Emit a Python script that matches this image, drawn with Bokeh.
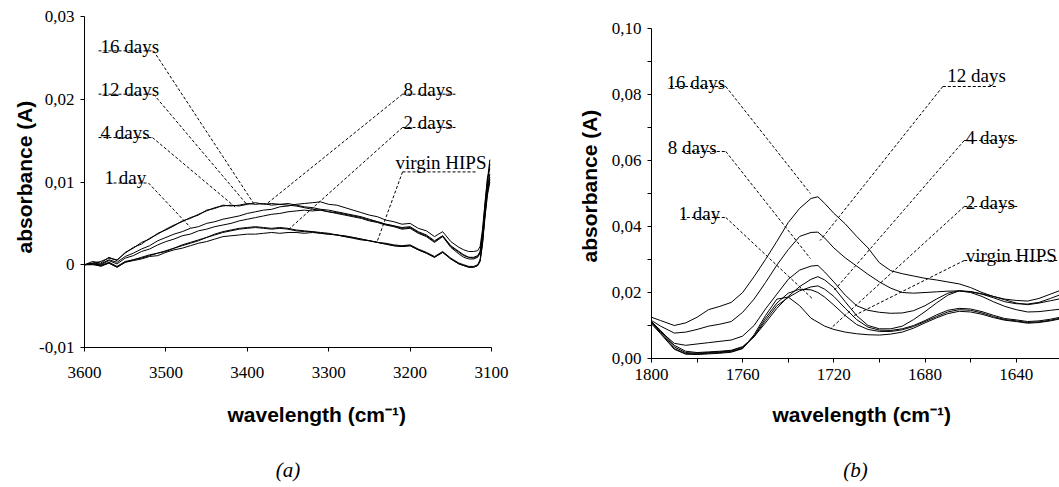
import numpy as np
from bokeh.plotting import figure
from bokeh.models import Range1d, FixedTicker, Title, LinearAxis
from bokeh.layouts import row
from bokeh.embed import file_html
from bokeh.resources import INLINE
from bokeh.core.properties import value

# ---------------- panel (a): 3600-3100 cm-1 ----------------
a_wave = [3600, 3590, 3580, 3570, 3560, 3550, 3540, 3530, 3520, 3510,
          3500, 3490, 3480, 3470, 3460, 3450, 3440, 3430, 3420, 3410,
          3400, 3390, 3380, 3370, 3360, 3350, 3340, 3330, 3320, 3310,
          3300, 3290, 3280, 3270, 3260, 3250, 3240, 3230, 3220, 3210,
          3200, 3190, 3180, 3170, 3160, 3150, 3140, 3134, 3128, 3122,
          3117, 3114, 3111, 3108, 3105, 3102]

a_16d = [0.0000, 0.0004, 0.0002, 0.0009, 0.0005, 0.0015, 0.0020, 0.0027, 0.0031, 0.0038,
         0.0042, 0.0047, 0.0053, 0.0056, 0.0061, 0.0065, 0.0069, 0.0071, 0.0072, 0.0071,
         0.0073, 0.0075, 0.0073, 0.0074, 0.0073, 0.0074, 0.0072, 0.0070, 0.0069, 0.0067,
         0.0066, 0.0064, 0.0062, 0.0060, 0.0058, 0.0055, 0.0052, 0.0049, 0.0047, 0.0044,
         0.0045, 0.0039, 0.0035, 0.0028, 0.0035, 0.0022, 0.0015, 0.0011, 0.0009, 0.0009,
         0.0011, 0.0016, 0.0038, 0.0072, 0.0102, 0.0127]
a_12d = [0.0000, 0.0002, 0.0004, 0.0008, 0.0006, 0.0014, 0.0021, 0.0025, 0.0032, 0.0037,
         0.0043, 0.0048, 0.0052, 0.0057, 0.0060, 0.0066, 0.0068, 0.0072, 0.0071, 0.0072,
         0.0074, 0.0073, 0.0074, 0.0072, 0.0073, 0.0072, 0.0071, 0.0069, 0.0067, 0.0066,
         0.0064, 0.0062, 0.0060, 0.0058, 0.0056, 0.0053, 0.0051, 0.0048, 0.0046, 0.0043,
         0.0044, 0.0038, 0.0034, 0.0027, 0.0034, 0.0021, 0.0013, 0.0009, 0.0007, 0.0007,
         0.0009, 0.0014, 0.0035, 0.0068, 0.0098, 0.0122]
a_8d = [0.0000, 0.0002, 0.0001, 0.0006, 0.0003, 0.0010, 0.0014, 0.0019, 0.0023, 0.0029,
        0.0033, 0.0037, 0.0040, 0.0044, 0.0046, 0.0050, 0.0052, 0.0055, 0.0057, 0.0059,
        0.0062, 0.0064, 0.0066, 0.0067, 0.0070, 0.0071, 0.0073, 0.0074, 0.0075, 0.0076,
        0.0073, 0.0072, 0.0069, 0.0066, 0.0063, 0.0060, 0.0058, 0.0054, 0.0052, 0.0049,
        0.0050, 0.0044, 0.0041, 0.0034, 0.0040, 0.0028, 0.0021, 0.0018, 0.0016, 0.0016,
        0.0017, 0.0022, 0.0043, 0.0075, 0.0105, 0.0116]
a_4d = [0.0000, 0.0001, 0.0000, 0.0005, 0.0001, 0.0008, 0.0011, 0.0016, 0.0019, 0.0024,
        0.0028, 0.0031, 0.0035, 0.0037, 0.0041, 0.0043, 0.0046, 0.0048, 0.0050, 0.0053,
        0.0055, 0.0057, 0.0059, 0.0061, 0.0062, 0.0064, 0.0065, 0.0066, 0.0065, 0.0066,
        0.0064, 0.0063, 0.0061, 0.0059, 0.0057, 0.0054, 0.0052, 0.0049, 0.0047, 0.0045,
        0.0046, 0.0040, 0.0036, 0.0029, 0.0035, 0.0023, 0.0016, 0.0012, 0.0009, 0.0008,
        0.0010, 0.0015, 0.0035, 0.0066, 0.0094, 0.0110]
a_2d = [0.0000, 0.0001, -0.0001, 0.0003, -0.0002, 0.0004, 0.0006, 0.0009, 0.0012, 0.0014,
        0.0017, 0.0020, 0.0024, 0.0027, 0.0030, 0.0033, 0.0037, 0.0040, 0.0042, 0.0044,
        0.0045, 0.0046, 0.0045, 0.0044, 0.0045, 0.0044, 0.0042, 0.0041, 0.0040, 0.0039,
        0.0038, 0.0036, 0.0035, 0.0033, 0.0031, 0.0029, 0.0027, 0.0026, 0.0024, 0.0023,
        0.0024, 0.0019, 0.0015, 0.0010, 0.0016, 0.0008, 0.0002, 0.0000, -0.0002, -0.0002,
        0.0000, 0.0006, 0.0029, 0.0062, 0.0090, 0.0106]
a_1d = [0.0000, 0.0000, -0.0001, 0.0002, -0.0003, 0.0003, 0.0006, 0.0008, 0.0011, 0.0014,
        0.0016, 0.0020, 0.0023, 0.0026, 0.0029, 0.0033, 0.0036, 0.0039, 0.0041, 0.0043,
        0.0044, 0.0045, 0.0044, 0.0043, 0.0044, 0.0043, 0.0041, 0.0040, 0.0040, 0.0038,
        0.0037, 0.0036, 0.0034, 0.0032, 0.0030, 0.0029, 0.0027, 0.0025, 0.0023, 0.0022,
        0.0023, 0.0018, 0.0014, 0.0009, 0.0015, 0.0007, 0.0001, -0.0001, -0.0003, -0.0003,
        -0.0001, 0.0005, 0.0027, 0.0060, 0.0087, 0.0103]
a_virgin = [0.0000, 0.0001, -0.0002, 0.0002, -0.0003, 0.0003, 0.0005, 0.0007, 0.0010, 0.0011,
            0.0015, 0.0018, 0.0020, 0.0023, 0.0026, 0.0028, 0.0031, 0.0034, 0.0035, 0.0036,
            0.0037, 0.0037, 0.0038, 0.0039, 0.0038, 0.0039, 0.0039, 0.0038, 0.0039, 0.0038,
            0.0037, 0.0036, 0.0034, 0.0033, 0.0031, 0.0029, 0.0027, 0.0025, 0.0023, 0.0022,
            0.0023, 0.0018, 0.0014, 0.0009, 0.0015, 0.0007, 0.0001, -0.0001, -0.0003, -0.0003,
            -0.0001, 0.0004, 0.0025, 0.0057, 0.0084, 0.0100]

a_xticks = [3600, 3500, 3400, 3300, 3200, 3100]
a_xtick_labels = ["3600", "3500", "3400", "3300", "3200", "3100"]
a_yticks = [-0.01, 0.0, 0.01, 0.02, 0.03]
a_ytick_labels = ["-0,01", "0", "0,01", "0,02", "0,03"]

# annotation placement (label text, text anchor, underline, leader line end)
a_labels = ["16 days", "12 days", "4 days", "1 day", "8 days", "2 days", "virgin HIPS"]
a_text_x = [3580.3, 3580.3, 3580.3, 3575.4, 3208.1, 3208.1, 3217.9]
a_text_y = [0.02634, 0.02122, 0.01598, 0.01049, 0.02122, 0.01720, 0.01232]
a_ul_x0 = [3582.8, 3582.8, 3582.8, 3570.5, 3209.3, 3209.3, 3209.3]
a_ul_x1 = [3515.2, 3515.2, 3516.5, 3521.4, 3141.8, 3141.8, 3117.2]
a_ul_y = [0.02585, 0.02061, 0.01537, 0.00988, 0.02061, 0.01659, 0.01122]
a_ld_x0 = [3515.2, 3515.2, 3516.5, 3521.4, 3209.3, 3209.3, 3209.3]
a_ld_x1 = [3392.4, 3399.8, 3414.5, 3469.8, 3375.2, 3350.6, 3240.0]
a_ld_y1 = [0.00744, 0.00720, 0.00695, 0.00451, 0.00744, 0.00415, 0.00293]

# ---------------- panel (b): 1800-1620 cm-1 ----------------
b_wave = [1800, 1796, 1790, 1785, 1780, 1775, 1770, 1765, 1760, 1755,
          1750, 1745, 1740, 1735, 1730, 1727, 1724, 1720, 1715, 1710,
          1705, 1700, 1695, 1690, 1685, 1680, 1675, 1670, 1665, 1660,
          1655, 1650, 1645, 1640, 1635, 1630, 1625, 1620]

b_16d = [0.0125, 0.0115, 0.0100, 0.0108, 0.0125, 0.0148, 0.0158, 0.0170, 0.0200, 0.0248,
         0.0300, 0.0355, 0.0412, 0.0455, 0.0485, 0.0490, 0.0470, 0.0440, 0.0408, 0.0370,
         0.0335, 0.0290, 0.0266, 0.0257, 0.0250, 0.0243, 0.0238, 0.0232, 0.0226, 0.0215,
         0.0200, 0.0188, 0.0180, 0.0176, 0.0174, 0.0182, 0.0195, 0.0208]
b_12d = [0.0115, 0.0098, 0.0077, 0.0080, 0.0088, 0.0098, 0.0104, 0.0112, 0.0140, 0.0180,
         0.0230, 0.0283, 0.0330, 0.0370, 0.0382, 0.0383, 0.0365, 0.0335, 0.0305, 0.0280,
         0.0255, 0.0232, 0.0213, 0.0200, 0.0198, 0.0200, 0.0202, 0.0204, 0.0205, 0.0202,
         0.0195, 0.0184, 0.0172, 0.0166, 0.0165, 0.0170, 0.0182, 0.0195]
b_8d = [0.0110, 0.0082, 0.0046, 0.0040, 0.0044, 0.0048, 0.0052, 0.0056, 0.0068, 0.0100,
        0.0150, 0.0195, 0.0240, 0.0268, 0.0280, 0.0282, 0.0262, 0.0232, 0.0192, 0.0160,
        0.0146, 0.0140, 0.0137, 0.0138, 0.0145, 0.0160, 0.0180, 0.0198, 0.0205, 0.0203,
        0.0196, 0.0188, 0.0178, 0.0168, 0.0163, 0.0168, 0.0175, 0.0182]
b_4d = [0.0112, 0.0085, 0.0040, 0.0022, 0.0018, 0.0020, 0.0022, 0.0025, 0.0036, 0.0066,
        0.0108, 0.0152, 0.0188, 0.0218, 0.0240, 0.0248, 0.0238, 0.0215, 0.0172, 0.0130,
        0.0100, 0.0090, 0.0090, 0.0098, 0.0118, 0.0142, 0.0168, 0.0192, 0.0205, 0.0200,
        0.0188, 0.0172, 0.0158, 0.0148, 0.0141, 0.0142, 0.0146, 0.0150]
b_2d = [0.0110, 0.0082, 0.0035, 0.0018, 0.0016, 0.0018, 0.0020, 0.0023, 0.0034, 0.0066,
        0.0115, 0.0160, 0.0185, 0.0205, 0.0217, 0.0220, 0.0210, 0.0188, 0.0152, 0.0118,
        0.0095, 0.0086, 0.0085, 0.0090, 0.0100, 0.0115, 0.0132, 0.0146, 0.0152, 0.0150,
        0.0142, 0.0131, 0.0121, 0.0117, 0.0112, 0.0114, 0.0119, 0.0126]
b_1d = [0.0108, 0.0078, 0.0030, 0.0015, 0.0014, 0.0016, 0.0018, 0.0021, 0.0031, 0.0068,
        0.0122, 0.0168, 0.0198, 0.0210, 0.0208, 0.0200, 0.0186, 0.0162, 0.0130, 0.0103,
        0.0088, 0.0082, 0.0082, 0.0087, 0.0097, 0.0112, 0.0127, 0.0141, 0.0148, 0.0146,
        0.0138, 0.0127, 0.0118, 0.0114, 0.0109, 0.0111, 0.0116, 0.0123]
b_virgin = [0.0105, 0.0075, 0.0028, 0.0013, 0.0012, 0.0014, 0.0016, 0.0019, 0.0030, 0.0072,
            0.0130, 0.0180, 0.0186, 0.0160, 0.0122, 0.0110, 0.0098, 0.0088, 0.0080, 0.0075,
            0.0072, 0.0071, 0.0074, 0.0080, 0.0092, 0.0108, 0.0123, 0.0136, 0.0143, 0.0141,
            0.0134, 0.0124, 0.0116, 0.0112, 0.0107, 0.0109, 0.0114, 0.0121]

b_xticks = [1800, 1780, 1760, 1740, 1720, 1700, 1680, 1660, 1640]
b_xtick_labels = ["1800", "", "1760", "", "1720", "", "1680", "", "1640"]
b_yticks = [0.00, 0.01, 0.02, 0.03, 0.04, 0.05, 0.06, 0.07, 0.08, 0.09, 0.10]
b_ytick_labels = ["0,00", "", "0,02", "", "0,04", "", "0,06", "", "0,08", "", "0,10"]

b_labels = ["16 days", "8 days", "1 day", "12 days", "4 days", "2 days", "virgin HIPS"]
b_text_x = [1793.4, 1792.9, 1788.1, 1670.2, 1662.1, 1662.1, 1662.1]
b_text_y = [0.08364, 0.06394, 0.04394, 0.08576, 0.06697, 0.04727, 0.03121]
b_ul_x0 = [1791.9, 1786.7, 1786.7, 1672.2, 1662.8, 1662.8, 1662.8]
b_ul_x1 = [1767.4, 1767.4, 1767.4, 1648.7, 1639.1, 1639.1, 1620.5]
b_ul_y = [0.08242, 0.06273, 0.04273, 0.08242, 0.06606, 0.04606, 0.02970]
b_ld_x0 = [1767.4, 1767.4, 1767.4, 1672.2, 1662.8, 1662.8, 1662.8]
b_ld_x1 = [1730.3, 1730.3, 1729.5, 1726.0, 1719.9, 1721.4, 1711.9]
b_ld_y1 = [0.05000, 0.03030, 0.01818, 0.03576, 0.02060, 0.00909, 0.01273]

SERIF = "Liberation Serif"
SANS = "Liberation Sans"


def make_panel(width, xr, yr, borders, waves, curves,
               xticks, xlabels, yticks, ylabels,
               labels, tx, ty, ulx0, ulx1, uly, ldx0, ldx1, ldy1,
               caption, xlabel_standoff, xtitle_offset, xtitle_standoff,
               ytitle_offset, ytitle_standoff, cap_standoff):
    bl, br, bt, bb = borders
    p = figure(width=width, height=487, x_range=Range1d(*xr), y_range=Range1d(*yr),
               output_backend="svg", toolbar_location=None, title=None,
               min_border_left=bl, min_border_right=br, min_border_top=bt,
               min_border_bottom=bb)
    p.frame_align = False
    p.outline_line_color = None
    p.grid.visible = False
    p.background_fill_color = "white"
    p.border_fill_color = "white"

    for c in curves:
        p.line(waves, c, line_color="black", line_width=1)

    # underlines and leader lines (dashed)
    xs = [[a, b] for a, b in zip(ulx0, ulx1)] + [[a, b] for a, b in zip(ldx0, ldx1)]
    ys = [[y, y] for y in uly] + [[y0, y1] for y0, y1 in zip(uly, ldy1)]
    p.multi_line(xs, ys, line_color="black", line_width=1, line_dash="3 2")
    p.text(x=tx, y=ty, text=labels, text_font=value(SERIF), text_font_size="19px",
           text_baseline="alphabetic", text_align="left", text_color="black")

    for ax in (p.xaxis[0], p.yaxis[0]):
        ax.axis_line_color = "black"
        ax.axis_line_width = 1
        ax.major_tick_line_color = "black"
        ax.major_tick_out = 4
        ax.major_tick_in = 0
        ax.minor_tick_line_color = None
        ax.major_label_text_font = SERIF
        ax.major_label_text_font_size = "17px"
        ax.major_label_text_color = "black"
        ax.major_label_standoff = 6
    p.xaxis[0].major_label_standoff = xlabel_standoff

    p.xaxis[0].ticker = FixedTicker(ticks=xticks)
    p.xaxis[0].major_label_overrides = {t: s for t, s in zip(xticks, xlabels)}
    p.yaxis[0].ticker = FixedTicker(ticks=yticks)
    p.yaxis[0].major_label_overrides = {t: s for t, s in zip(yticks, ylabels)}

    # axis titles
    p.add_layout(Title(text="absorbance (A)", align="left", offset=ytitle_offset,
                       vertical_align="bottom", standoff=ytitle_standoff,
                       text_font=SANS, text_font_style="bold", text_font_size="21px",
                       text_color="black"), "left")
    p.add_layout(Title(text="wavelength (cm\u207b\u00b9)", align="left", offset=xtitle_offset,
                       vertical_align="bottom", standoff=xtitle_standoff,
                       text_font=SANS, text_font_style="bold", text_font_size="21px",
                       text_color="black"), "below")
    # panel caption as label of an empty extra axis
    cap_axis = LinearAxis(ticker=FixedTicker(ticks=[]), axis_line_color=None,
                          major_tick_line_color=None, minor_tick_line_color=None,
                          major_tick_out=0, major_label_standoff=0,
                          axis_label=caption, axis_label_standoff=cap_standoff,
                          axis_label_text_font=SERIF, axis_label_text_font_style="italic",
                          axis_label_text_font_size="21px", axis_label_text_color="black")
    p.add_layout(cap_axis, "below")
    return p


pa = make_panel(530, (3600, 3100), (-0.01, 0.03), (84, 39, 16, 140), a_wave,
                [a_16d, a_12d, a_8d, a_4d, a_2d, a_1d, a_virgin],
                a_xticks, a_xtick_labels, a_yticks, a_ytick_labels,
                a_labels, a_text_x, a_text_y, a_ul_x0, a_ul_x1, a_ul_y,
                a_ld_x0, a_ld_x1, a_ld_y1, "(a)", 15, 143, 40, 94, 2, 12)

pb = make_panel(529, (1800, 1621), (0.0, 0.10), (121, 0, 28, 129), b_wave,
                [b_16d, b_12d, b_8d, b_4d, b_2d, b_1d, b_virgin],
                b_xticks, b_xtick_labels, b_yticks, b_ytick_labels,
                b_labels, b_text_x, b_text_y, b_ul_x0, b_ul_x1, b_ul_y,
                b_ld_x0, b_ld_x1, b_ld_y1, "(b)", 6, 121, 36, 96, 16, 14)

layout = row(pa, pb)
open("out.html", "w").write(file_html(layout, INLINE))
